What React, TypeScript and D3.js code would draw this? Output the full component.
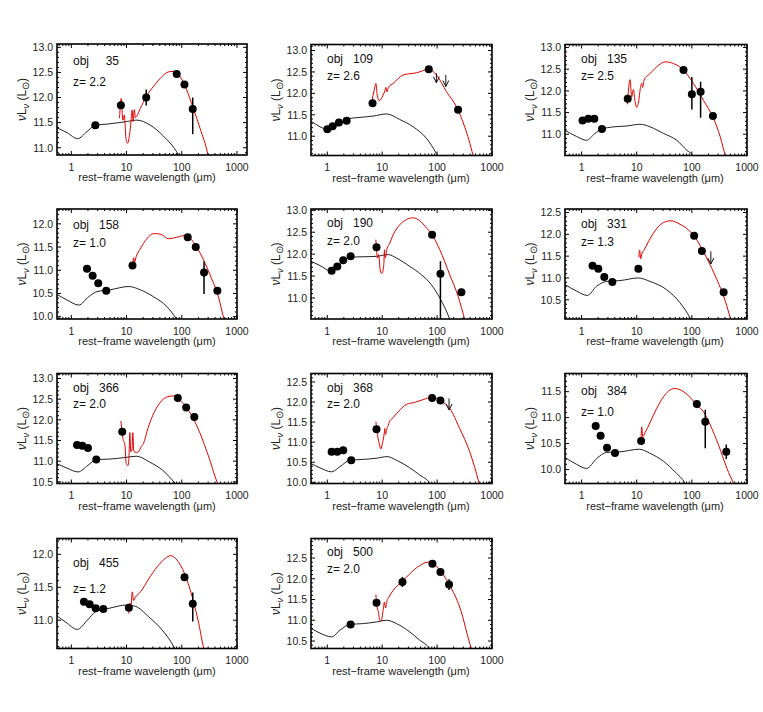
import { useEffect, useRef } from "react";
import * as d3 from "d3";

// photometry: [wavelength (µm), log nuLnu, error low, error high]
const phot35 = [[2.72, 11.45], [7.9, 11.845], [22.7, 12.0, 11.84, 12.16], [81, 12.47], [112, 12.26, 12.23, 12.29], [158, 11.77, 11.27, 12.0]];
const stars35 = [[0.55, 11.4], [0.835, 11.3], [1.3, 11.18], [1.92, 11.32], [2.72, 11.45], [4.4, 11.47], [9.86, 11.52], [15.4, 11.55], [26.8, 11.45], [46.7, 11.23], [87, 10.86], [95, 10.78]];
const dust35 = [[7.47, 11.59], [8.0, 11.98], [8.6, 11.55], [9.1, 11.65], [9.86, 11.15], [10.4, 11.09], [11.6, 11.35], [12.1, 11.55], [12.6, 11.75], [13.2, 11.52], [13.8, 11.76], [14.5, 11.6], [17.7, 11.78], [22.7, 12.02], [30.7, 12.22], [40.6, 12.38], [57.4, 12.51], [70.7, 12.52], [93, 12.42], [123, 12.15], [162, 11.78], [214, 11.39], [303, 10.82], [330, 10.6]];

const phot109 = [[1.0, 11.16], [1.25, 11.23], [1.63, 11.32], [2.25, 11.36], [6.67, 11.77], [70.5, 12.56], [241, 11.62, 11.54, 11.7]];
const limits109 = [[97, 12.47, 12.25], [144, 12.43, 12.16]];
const stars109 = [[0.5, 11.36], [0.736, 11.22], [1.12, 11.14], [1.585, 11.26], [2.25, 11.4], [3.93, 11.44], [6.86, 11.47], [12.0, 11.52], [20.9, 11.39], [36.6, 11.22], [64, 10.95], [97.3, 10.59], [110, 10.45]];
const dust109 = [[6.4, 11.78], [7.16, 12.08], [7.67, 12.23], [8.11, 11.96], [8.82, 11.83], [9.46, 11.86], [10.4, 11.96], [11.2, 12.06], [11.7, 12.14], [12.2, 12.04], [13.0, 12.14], [15.8, 12.23], [24.1, 12.43], [42.1, 12.48], [70.5, 12.56], [97.3, 12.43], [148, 12.04], [225, 11.69], [318, 11.22], [451, 10.55], [480, 10.4]];

const phot135 = [[1.04, 11.32], [1.32, 11.36], [1.7, 11.36], [2.34, 11.12], [6.86, 11.82], [70.5, 12.48], [100, 11.92, 11.57, 12.32], [144, 11.98, 11.38, 12.21], [241, 11.42, 11.37, 11.47]];
const stars135 = [[0.5, 11.09], [0.81, 10.95], [1.23, 10.86], [1.75, 11.02], [2.34, 11.12], [3.77, 11.17], [6.58, 11.19], [11.5, 11.23], [17.5, 11.17], [30.5, 11.02], [53.3, 10.86], [81, 10.63], [104, 10.51], [115, 10.4]];
const dust135 = [[6.77, 11.69], [7.57, 12.26], [8.1, 11.86], [8.7, 12.03], [9.33, 11.75], [10, 11.62], [10.9, 11.78], [11.5, 12.02], [12.3, 12.17], [12.8, 12.08], [13.6, 12.25], [17.5, 12.4], [24.8, 12.59], [32.7, 12.67], [46.4, 12.63], [70.5, 12.48], [107, 12.17], [163, 11.78], [248, 11.36], [327, 10.94], [404, 10.51], [430, 10.4]];

const phot158 = [[1.92, 11.03], [2.43, 10.88], [3.07, 10.72], [4.29, 10.56], [12.8, 11.1], [128, 11.71], [179, 11.5], [253, 10.95, 10.49, 11.19], [441, 10.56]];
const stars158 = [[0.55, 10.48], [0.835, 10.36], [1.36, 10.25], [2.06, 10.43], [2.91, 10.54], [5.07, 10.58], [10.9, 10.65], [17.7, 10.58], [30.7, 10.43], [53.6, 10.22], [81, 9.95], [90, 9.88]];
const dust158 = [[12.9, 11.12], [13.5, 11.27], [13.9, 11.17], [15, 11.3], [17.7, 11.46], [23.3, 11.68], [30.7, 11.79], [40.6, 11.78], [57.4, 11.68], [81, 11.71], [115, 11.75], [152, 11.65], [215, 11.37], [325, 10.9], [460, 10.43], [582, 9.95], [620, 9.85]];

const phot190 = [[1.2, 11.62], [1.52, 11.72], [1.95, 11.86], [2.66, 11.95], [7.88, 12.16], [81.1, 12.44], [115, 11.55, 10.3, 11.84], [277, 11.13, 11.05, 11.21]];
const stars190 = [[0.5, 11.84], [0.736, 11.74], [1.17, 11.61], [1.585, 11.72], [2.58, 11.93], [4.51, 11.94], [7.88, 11.95], [12.9, 11.99], [18.2, 11.91], [31.8, 11.72], [51.9, 11.53], [78.9, 11.3], [112, 11.0], [170, 10.52], [185, 10.4]];
const dust190 = [[7.67, 12.33], [7.88, 12.1], [8.2, 11.91], [8.58, 11.99], [9.33, 11.59], [9.86, 11.56], [10.7, 11.76], [11.0, 12.1], [11.3, 11.91], [12.3, 12.14], [13.4, 12.22], [15.8, 12.44], [20.9, 12.67], [27.7, 12.79], [36.6, 12.83], [48.4, 12.76], [64, 12.6], [81.1, 12.44], [112, 12.1], [170, 11.53], [241, 11.04], [318, 10.52], [340, 10.4]];

const phot331 = [[1.58, 11.28], [2.01, 11.21], [2.58, 11.02], [3.61, 10.91], [10.7, 11.21], [110, 11.97], [152, 11.62, 11.57, 11.67], [377, 10.67, 10.6, 10.74]];
const limits331 = [[221, 11.61, 11.32]];
const stars331 = [[0.5, 10.85], [0.81, 10.7], [1.27, 10.6], [1.87, 10.81], [2.85, 10.92], [4.97, 10.94], [10.7, 11.0], [17.5, 10.92], [35, 10.73], [61, 10.43], [93, 10.08], [100, 10.0]];
const dust331 = [[10.9, 11.47], [11.3, 11.64], [11.8, 11.44], [12.5, 11.57], [13.6, 11.64], [16.3, 11.83], [21.5, 12.08], [30.5, 12.27], [41.5, 12.31], [61, 12.23], [87, 12.1], [123, 11.87], [187, 11.45], [285, 10.96], [404, 10.47], [498, 10.08], [520, 10.0]];

const phot366 = [[1.27, 11.39], [1.58, 11.37], [2.0, 11.32], [2.83, 11.04], [8.35, 11.71], [84.7, 12.53], [120, 12.3], [169, 12.07, 12.02, 12.12]];
const stars366 = [[0.54, 10.94], [0.81, 10.84], [1.32, 10.74], [2.0, 10.9], [2.83, 11.04], [4.93, 11.05], [9.6, 11.09], [15, 11.12], [26, 10.98], [45, 10.78], [77, 10.46], [85, 10.4]];
const dust366 = [[7.9, 11.97], [8.6, 11.55], [9.33, 11.39], [9.86, 10.94], [10.6, 10.89], [11.0, 11.03], [11.5, 11.69], [11.9, 11.23], [12.5, 11.27], [13.0, 11.69], [13.5, 11.24], [15, 11.21], [16.7, 11.24], [18.4, 11.35], [20.3, 11.43], [24.3, 11.79], [29.9, 12.11], [39.5, 12.4], [55.8, 12.56], [73.7, 12.58], [97, 12.45], [138, 12.19], [209, 11.71], [316, 11.06], [447, 10.46], [470, 10.4]];

const phot368 = [[1.2, 10.76], [1.52, 10.76], [1.95, 10.8], [2.73, 10.55], [7.88, 11.32], [81.1, 12.1, 12.05, 12.15], [115, 12.04, 11.99, 12.09]];
const limits368 = [[165, 12.09, 11.8]];
const stars368 = [[0.5, 10.47], [0.736, 10.36], [1.2, 10.26], [1.7, 10.39], [2.58, 10.55], [4.51, 10.57], [7.88, 10.6], [12.3, 10.64], [18.2, 10.55], [31.8, 10.36], [48.4, 10.18], [73.6, 9.98], [80, 9.9]];
const dust368 = [[7.67, 11.51], [8.11, 11.24], [8.34, 11.13], [8.82, 10.97], [9.46, 10.83], [10.1, 10.97], [10.9, 11.22], [11.2, 11.34], [11.5, 11.19], [12.3, 11.36], [12.9, 11.42], [13.4, 11.49], [15.8, 11.61], [20.9, 11.8], [27.7, 11.94], [39.3, 11.99], [55.6, 12.06], [81.1, 12.12], [120, 12.02], [170, 11.84], [258, 11.34], [393, 10.76], [580, 9.98], [600, 9.9]];

const phot384 = [[1.8, 10.84], [2.21, 10.65], [2.89, 10.42], [4.04, 10.32], [12.0, 10.55], [123, 11.26, 11.19, 11.33], [175, 10.92, 10.41, 11.15], [421, 10.34, 10.2, 10.48]];
const stars384 = [[0.5, 10.23], [0.81, 10.1], [1.23, 10.02], [1.87, 10.21], [2.85, 10.33], [4.97, 10.34], [11.2, 10.39], [17.5, 10.31], [30.5, 10.16], [49.8, 9.95], [75.6, 9.73], [80, 9.68]];
const dust384 = [[12.0, 10.57], [12.3, 10.82], [12.9, 10.63], [14.2, 10.71], [17.5, 10.91], [23.1, 11.18], [30.5, 11.4], [37.7, 11.51], [47.7, 11.56], [65.8, 11.52], [93, 11.39], [123, 11.24], [163, 11.11], [215, 10.86], [305, 10.47], [433, 10.02], [572, 9.73], [600, 9.68]];

const phot455 = [[1.69, 11.28], [2.14, 11.24], [2.75, 11.18], [3.79, 11.17], [11.0, 11.19], [112, 11.65, 11.61, 11.69], [158, 11.25, 10.98, 11.42]];
const stars455 = [[0.52, 11.08], [0.79, 10.97], [1.28, 10.86], [1.95, 11.0], [2.75, 11.13], [4.8, 11.18], [10.3, 11.23], [14.5, 11.21], [25.3, 11.05], [44.2, 10.85], [74.7, 10.57], [80, 10.52]];
const dust455 = [[11.0, 11.1], [11.5, 11.26], [11.9, 11.18], [12.7, 11.43], [13.4, 11.3], [14.5, 11.35], [17.9, 11.43], [25.3, 11.63], [35.8, 11.81], [50.7, 11.94], [62.4, 11.98], [82.4, 11.91], [112, 11.71], [154, 11.36], [203, 10.95], [250, 10.57], [265, 10.5]];

const phot500 = [[2.66, 10.9], [7.88, 11.42], [23.4, 11.92, 11.8, 12.04], [82.2, 12.36], [115, 12.16], [165, 11.86, 11.73, 11.99]];
const stars500 = [[0.5, 10.81], [0.736, 10.69], [1.2, 10.6], [1.7, 10.76], [2.58, 10.9], [4.51, 10.92], [7.88, 10.96], [12.0, 11.0], [18.2, 10.92], [31.8, 10.72], [48.4, 10.52], [73.6, 10.32], [80, 10.25]];
const dust500 = [[7.67, 11.62], [8.11, 11.3], [8.45, 11.22], [9.07, 11.0], [9.59, 10.98], [10.4, 11.24], [11.0, 11.44], [11.5, 11.3], [12.3, 11.48], [13.0, 11.54], [15.8, 11.72], [23.4, 11.94], [31.8, 12.12], [48.4, 12.32], [68.6, 12.4], [82.2, 12.38], [115, 12.19], [170, 11.84], [258, 11.32], [421, 10.32], [440, 10.25]];

const panels = [
  { obj: "35", z: "2.2", xRange: [0.55, 1520], yRange: [10.855, 13.066], phot: phot35, limits: [], stars: stars35, dust: dust35 },
  { obj: "109", z: "2.6", xRange: [0.505, 1000], yRange: [10.55, 13.14], phot: phot109, limits: limits109, stars: stars109, dust: dust109 },
  { obj: "135", z: "2.5", xRange: [0.5, 1000], yRange: [10.51, 13.07], phot: phot135, limits: [], stars: stars135, dust: dust135 },
  { obj: "158", z: "1.0", xRange: [0.55, 1000], yRange: [9.95, 12.32], phot: phot158, limits: [], stars: stars158, dust: dust158 },
  { obj: "190", z: "2.0", xRange: [0.505, 1000], yRange: [10.52, 13.03], phot: phot190, limits: [], stars: stars190, dust: dust190 },
  { obj: "331", z: "1.3", xRange: [0.5, 1000], yRange: [10.06, 12.58], phot: phot331, limits: limits331, stars: stars331, dust: dust331 },
  { obj: "366", z: "2.0", xRange: [0.55, 1000], yRange: [10.46, 13.12], phot: phot366, limits: [], stars: stars366, dust: dust366 },
  { obj: "368", z: "2.0", xRange: [0.505, 1000], yRange: [9.97, 12.71], phot: phot368, limits: limits368, stars: stars368, dust: dust368 },
  { obj: "384", z: "1.0", xRange: [0.5, 1000], yRange: [9.73, 11.85], phot: phot384, limits: [], stars: stars384, dust: dust384 },
  { obj: "455", z: "1.2", xRange: [0.55, 1000], yRange: [10.57, 12.24], phot: phot455, limits: [], stars: stars455, dust: dust455 },
  { obj: "500", z: "2.0", xRange: [0.505, 1000], yRange: [10.32, 12.97], phot: phot500, limits: [], stars: stars500, dust: dust500 },
];

// frame in px: left, top, right, bottom, obj label offset, z label offset
const layout = [
  [57, 44, 247, 155, 20.5, 41.5],
  [311, 44.5, 492, 155.5, 18, 35],
  [565, 44.5, 747, 155.5, 18, 35],
  [57, 209, 237, 319, 19.5, 38],
  [311, 209, 492, 319, 18, 36],
  [565, 209, 747, 319, 19, 37],
  [57, 373.5, 237, 483.5, 18, 34.5],
  [311, 373.5, 492, 483.5, 18, 34.5],
  [565, 373.5, 747, 483.5, 21.5, 42],
  [57, 538.5, 237, 648.5, 28, 54],
  [311, 538.5, 492, 648.5, 17.5, 34.5],
];

const FONT = "'Liberation Sans', Arial, Helvetica, sans-serif";

const App = () => {
  const svgRef = useRef(null);

  useEffect(() => {
    const svg = d3.select(svgRef.current);
    svg.selectAll("*").remove();

    panels.forEach((p, i) => {
      const [left, top, right, bottom, objDy, zDy] = layout[i];
      const x = d3.scaleLog().domain(p.xRange).range([left, right]);
      const y = d3.scaleLinear().domain(p.yRange).range([bottom, top]);
      const g = svg.append("g").style("font-family", FONT);

      const clipId = `clip-${i}`;
      g.append("clipPath")
        .attr("id", clipId)
        .append("rect")
        .attr("x", left)
        .attr("y", top)
        .attr("width", right - left)
        .attr("height", bottom - top);
      const plot = g.append("g").attr("clip-path", `url(#${clipId})`);

      const line = d3
        .line()
        .x((d) => x(d[0]))
        .y((d) => y(d[1]))
        .curve(d3.curveMonotoneX);

      plot.append("path").attr("d", line(p.stars)).attr("fill", "none").attr("stroke", "#222").attr("stroke-width", 1);
      plot.append("path").attr("d", line(p.dust)).attr("fill", "none").attr("stroke", "#e00000").attr("stroke-width", 1);

      // error bars
      p.phot
        .filter((d) => d.length > 2)
        .forEach((d) => {
          plot
            .append("line")
            .attr("x1", x(d[0]))
            .attr("x2", x(d[0]))
            .attr("y1", y(d[2]))
            .attr("y2", y(d[3]))
            .attr("stroke", "#000")
            .attr("stroke-width", 1.5);
        });

      plot
        .selectAll("circle")
        .data(p.phot)
        .enter()
        .append("circle")
        .attr("cx", (d) => x(d[0]))
        .attr("cy", (d) => y(d[1]))
        .attr("r", 4)
        .attr("fill", "#000");

      // upper limits
      p.limits.forEach((d) => {
        const lx = x(d[0]);
        const y0 = y(d[1]);
        const y1 = y(d[2]);
        plot
          .append("path")
          .attr("d", `M${lx},${y0}L${lx},${y1}M${lx - 3},${y1 - 6}L${lx},${y1}L${lx + 3},${y1 - 6}`)
          .attr("fill", "none")
          .attr("stroke", "#111")
          .attr("stroke-width", 1);
      });

      // frame
      g.append("rect")
        .attr("x", left)
        .attr("y", top)
        .attr("width", right - left)
        .attr("height", bottom - top)
        .attr("fill", "none")
        .attr("stroke", "#000")
        .attr("stroke-width", 1.6);

      // ticks
      const ticks = g.append("g").attr("stroke", "#000").attr("stroke-width", 1);
      const [xmin, xmax] = p.xRange;
      for (let e = -1; e <= 3; e++) {
        for (let k = 1; k <= 9; k++) {
          const v = k * Math.pow(10, e);
          if (v < xmin * 0.999 || v > xmax * 1.001) continue;
          const len = k === 1 ? 4 : 2;
          const px = x(v);
          ticks.append("line").attr("x1", px).attr("x2", px).attr("y1", bottom).attr("y2", bottom - len);
          ticks.append("line").attr("x1", px).attr("x2", px).attr("y1", top).attr("y2", top + len);
          if (k === 1) {
            g.append("text")
              .attr("x", px)
              .attr("y", bottom + 15.5)
              .attr("text-anchor", "middle")
              .attr("font-size", 10.5)
              .attr("fill", "#222")
              .text(d3.format("d")(v));
          }
        }
      }
      const [ymin, ymax] = p.yRange;
      for (let k = Math.ceil(ymin * 10); k <= Math.floor(ymax * 10); k++) {
        const major = k % 5 === 0;
        const len = major ? 4 : 2;
        const py = y(k / 10);
        ticks.append("line").attr("x1", left).attr("x2", left + len).attr("y1", py).attr("y2", py);
        ticks.append("line").attr("x1", right).attr("x2", right - len).attr("y1", py).attr("y2", py);
        if (major) {
          g.append("text")
            .attr("x", left - 4)
            .attr("y", py + 3.8)
            .attr("text-anchor", "end")
            .attr("font-size", 10.5)
            .attr("fill", "#222")
            .text((k / 10).toFixed(1));
        }
      }

      // labels inside
      g.append("text").attr("x", left + 16).attr("y", top + objDy).attr("font-size", 12).attr("fill", "#111").text("obj");
      g.append("text")
        .attr("x", left + 62)
        .attr("y", top + objDy)
        .attr("text-anchor", "end")
        .attr("font-size", 12)
        .attr("fill", "#111")
        .text(p.obj);
      g.append("text").attr("x", left + 16).attr("y", top + zDy).attr("font-size", 12).attr("fill", "#111").text(`z= ${p.z}`);

      // axis titles
      g.append("text")
        .attr("x", left + 90)
        .attr("y", bottom + 26)
        .attr("text-anchor", "middle")
        .attr("font-size", 11)
        .attr("fill", "#222")
        .text("rest\u2212frame wavelength (\u03bcm)");

      const yt = g
        .append("text")
        .attr("transform", `translate(${left - 31},${(top + bottom) / 2}) rotate(-90)`)
        .attr("text-anchor", "middle")
        .attr("font-size", 12)
        .attr("fill", "#222");
      yt.append("tspan").attr("font-style", "italic").text("\u03bd");
      yt.append("tspan").text("L");
      yt.append("tspan").attr("dy", 3).attr("font-size", 9).attr("font-style", "italic").text("\u03bd");
      yt.append("tspan").attr("dy", -3).text(" (L");
      yt.append("tspan").attr("dy", 3).attr("font-size", 10).text("\u2299");
      yt.append("tspan").attr("dy", -3).text(")");
    });
  }, []);

  return (
    <svg
      ref={svgRef}
      width={763}
      height={712}
      style={{ position: "absolute", left: 0, top: 0, background: "#fff" }}
    ></svg>
  );
};

export default App;
